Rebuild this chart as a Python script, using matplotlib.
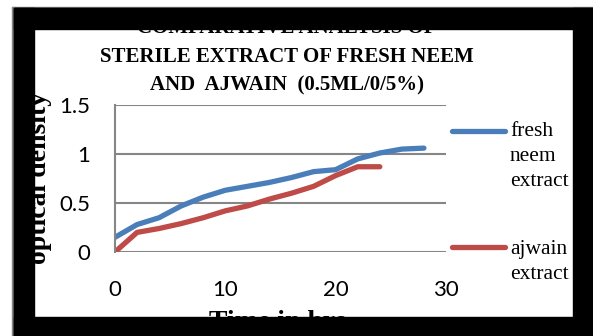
import matplotlib.pyplot as plt
from matplotlib.patches import Rectangle
from matplotlib.lines import Line2D

# optical density readings, taken every 2 hours
hours_neem = [0, 2, 4, 6, 8, 10, 12, 14, 16, 18, 20, 22, 24, 26, 28]
od_neem = [0.15, 0.28, 0.35, 0.47, 0.56, 0.63, 0.67, 0.71, 0.76, 0.82, 0.84, 0.95, 1.01, 1.05, 1.06]

hours_ajwain = [0, 2, 4, 6, 8, 10, 12, 14, 16, 18, 20, 22, 24]
od_ajwain = [0.0, 0.20, 0.24, 0.29, 0.35, 0.42, 0.47, 0.54, 0.60, 0.67, 0.78, 0.87, 0.87]

x_ticks = [0, 10, 20, 30]
y_ticks = [0, 0.5, 1, 1.5]
y_tick_labels = ['0', '0.5', '1', '1.5']

title = "COMPARATIVE ANALYSIS OF\nSTERILE EXTRACT OF FRESH NEEM\nAND  AJWAIN  (0.5ML/0/5%)"
legend_labels = ["fresh\nneem\nextract", "ajwain\nextract"]

blue = '#4a7ebb'
red = '#be4b48'
grid_col = '#868686'

W, H = 593, 336
fig = plt.figure(figsize=(W / 100, H / 100), dpi=100)
fig.patch.set_facecolor('white')


def fx(px):
    return px / W


def fy(py):
    return 1 - py / H


ax = fig.add_axes([fx(115), fy(252), fx(446) - fx(115), fy(105) - fy(252)])
ax.plot(hours_neem, od_neem, color=blue, lw=3.8, solid_capstyle='round', solid_joinstyle='round')
ax.plot(hours_ajwain, od_ajwain, color=red, lw=3.8, solid_capstyle='round', solid_joinstyle='round')
ax.set_xlim(0, 30)
ax.set_ylim(0, 1.5)
ax.set_xticks(x_ticks)
ax.set_yticks(y_ticks)
ax.set_yticklabels(y_tick_labels)
ax.tick_params(axis='x', length=0, labelsize=16, pad=20)
ax.tick_params(axis='y', length=0, labelsize=16, pad=18)
for lab in ax.get_xticklabels() + ax.get_yticklabels():
    lab.set_family('Lato')
ax.grid(axis='y', color=grid_col, lw=1.5)
ax.set_axisbelow(True)
for s in ['top', 'right', 'bottom']:
    ax.spines[s].set_visible(False)
ax.spines['left'].set_color(grid_col)
ax.spines['left'].set_linewidth(1.5)

# title (first line runs under the frame) and axis labels
fig.text(fx(287), fy(90), title, ha='center', va='baseline', fontsize=15,
         fontweight='bold', family='Liberation Serif', linespacing=1.56)
fig.text(fx(277), fy(329), "Time in hrs", ha='center', va='baseline', fontsize=20,
         fontweight='bold', family='Liberation Serif')
fig.text(fx(40), fy(178), "optical density", ha='center', va='center', rotation=90,
         fontsize=20, fontweight='bold', family='Liberation Serif')

# legend drawn by hand
fig.add_artist(Line2D([fx(452), fx(505)], [fy(130.5), fy(130.5)], color=blue, lw=3.8,
                      solid_capstyle='round'))
fig.add_artist(Line2D([fx(452), fx(505)], [fy(246.5), fy(246.5)], color=red, lw=3.8,
                      solid_capstyle='round'))
fig.text(fx(510), fy(186), legend_labels[0], ha='left', va='baseline', fontsize=15.5,
         family='Liberation Serif', linespacing=1.42)
fig.text(fx(510), fy(279), legend_labels[1], ha='left', va='baseline', fontsize=15.5,
         family='Liberation Serif', linespacing=1.42)

# black frame around the chart
frame = [
    Rectangle((fx(12), 0), fx(2), fy(7), color=grid_col),
    Rectangle((fx(12), fy(8)), 1 - fx(12), fy(7) - fy(8), color=grid_col),
    Rectangle((fx(14), 0), 1 - fx(14), fy(8), color='black'),
]
for r in frame:
    r.set_zorder(-5)
    fig.add_artist(r)
# inner white area, then the borders over the overflowing text
fig.add_artist(Rectangle((fx(34), fy(317)), fx(573) - fx(34), fy(29) - fy(317),
                         color='white', zorder=-4))
borders = [
    Rectangle((fx(14), fy(29)), 1 - fx(14), fy(8) - fy(29), color='black'),
    Rectangle((fx(14), 0), 1 - fx(14), fy(317), color='black'),
    Rectangle((fx(14), 0), fx(34) - fx(14), fy(8), color='black'),
    Rectangle((fx(573), 0), 1 - fx(573), fy(8), color='black'),
]
for r in borders:
    r.set_zorder(10)
    fig.add_artist(r)

fig.savefig('out.png', dpi=100)
